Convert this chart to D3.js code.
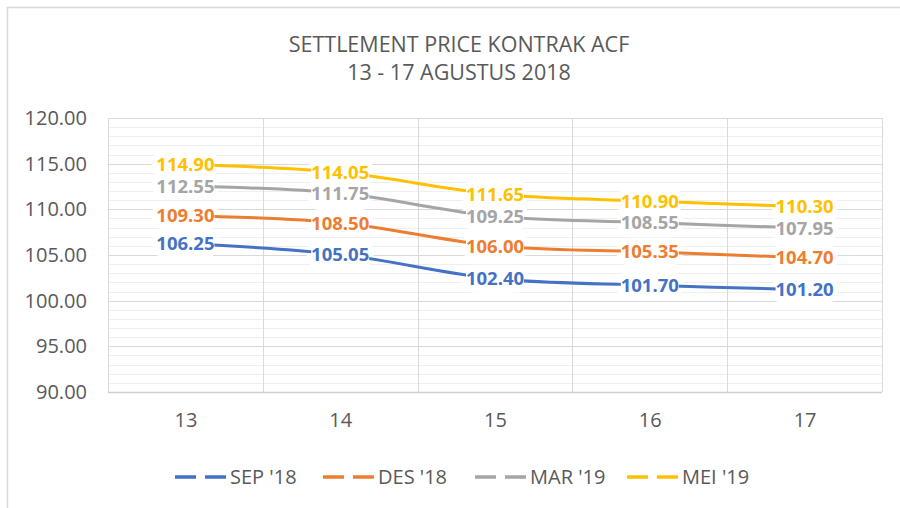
<!DOCTYPE html>
<html>
<head>
<meta charset="utf-8">
<script src="https://cdn.jsdelivr.net/npm/d3@7"></script>
<style>
  html, body { margin: 0; padding: 0; background: #fff; }
  svg { display: block; font-family: "Open Sans", "Noto Sans", sans-serif; }
</style>
</head>
<body>
<div id="chart"></div>
<script>
const days = ["13", "14", "15", "16", "17"];
const seriesNames = ["SEP '18", "DES '18", "MAR '19", "MEI '19"];
const seriesColors = ["#4472C4", "#ED7D31", "#A5A5A5", "#FFC000"];
const sep18 = [106.25, 105.05, 102.40, 101.70, 101.20];
const des18 = [109.30, 108.50, 106.00, 105.35, 104.70];
const mar19 = [112.55, 111.75, 109.25, 108.55, 107.95];
const mei19 = [114.90, 114.05, 111.65, 110.90, 110.30];
const yTicks = [90, 95, 100, 105, 110, 115, 120];
const titleLines = ["SETTLEMENT PRICE KONTRAK ACF", "13 - 17 AGUSTUS 2018"];

const seriesValues = [sep18, des18, mar19, mei19];
const series = seriesNames.map(function(name, i) {
  return {
    name: name,
    color: seriesColors[i],
    points: seriesValues[i].map(function(v, j) { return {day: days[j], value: v}; })
  };
});

const W = 900, H = 508;
const plot = {left: 108, right: 882, top: 118, bottom: 392};
const textColor = "#595959";

const svg = d3.select("#chart").append("svg")
  .attr("width", W)
  .attr("height", H);

// Chart area border (runs off the right and bottom edges)
svg.append("rect")
  .attr("x", 7.5)
  .attr("y", 7.5)
  .attr("width", 1000)
  .attr("height", 1000)
  .attr("fill", "#fff")
  .attr("stroke", "#d9d9d9")
  .attr("stroke-width", 1.5);

// Title
svg.append("g")
  .selectAll("text")
  .data(titleLines)
  .enter()
  .append("text")
  .attr("x", 459)
  .attr("y", function(d, i) { return 52 + i * 28; })
  .attr("text-anchor", "middle")
  .attr("font-size", 21.5)
  .attr("fill", textColor)
  .text(function(d) { return d; });

// Scales
const yScale = d3.scaleLinear()
  .domain([90, 120])
  .range([plot.bottom, plot.top]);

const xBand = d3.scaleBand()
  .domain(days)
  .range([plot.left, plot.right]);

const xScale = d3.scalePoint()
  .domain(days)
  .range([plot.left, plot.right])
  .padding(0.5);

// Minor horizontal gridlines
const minorTicks = d3.range(90, 121).filter(function(v) { return v % 5 !== 0; });
svg.append("g")
  .selectAll("line")
  .data(minorTicks)
  .enter()
  .append("line")
  .attr("x1", plot.left)
  .attr("x2", plot.right)
  .attr("y1", function(d) { return Math.round(yScale(d)) + 0.5; })
  .attr("y2", function(d) { return Math.round(yScale(d)) + 0.5; })
  .attr("stroke", "#efefef")
  .attr("stroke-width", 1);

// Major horizontal gridlines
svg.append("g")
  .selectAll("line")
  .data(yTicks)
  .enter()
  .append("line")
  .attr("x1", plot.left)
  .attr("x2", plot.right)
  .attr("y1", function(d) { return Math.round(yScale(d)) + 0.5; })
  .attr("y2", function(d) { return Math.round(yScale(d)) + 0.5; })
  .attr("stroke", "#d9d9d9")
  .attr("stroke-width", 1);

// Vertical gridlines at category boundaries
const boundaries = days.map(function(d) { return xBand(d); }).concat([plot.right]);
svg.append("g")
  .selectAll("line")
  .data(boundaries)
  .enter()
  .append("line")
  .attr("x1", function(d) { return Math.round(d) + 0.5; })
  .attr("x2", function(d) { return Math.round(d) + 0.5; })
  .attr("y1", plot.top)
  .attr("y2", plot.bottom)
  .attr("stroke", "#d9d9d9")
  .attr("stroke-width", 1);

// Bottom axis line
svg.append("line")
  .attr("x1", plot.left)
  .attr("x2", plot.right)
  .attr("y1", plot.bottom + 0.5)
  .attr("y2", plot.bottom + 0.5)
  .attr("stroke", "#d0d0d0")
  .attr("stroke-width", 1.5);

// Y axis labels
const yAxis = d3.axisLeft(yScale)
  .tickValues(yTicks)
  .tickSize(0)
  .tickPadding(21)
  .tickFormat(d3.format(".2f"));
const yAxisGroup = svg.append("g")
  .attr("transform", "translate(" + plot.left + ",0)")
  .call(yAxis);
yAxisGroup.select(".domain").remove();
yAxisGroup.selectAll("text")
  .attr("font-family", "\"Open Sans\", sans-serif")
  .attr("font-size", 20)
  .attr("fill", textColor);

// X axis labels
const xAxis = d3.axisBottom(xScale)
  .tickSize(0)
  .tickPadding(21);
const xAxisGroup = svg.append("g")
  .attr("transform", "translate(0," + plot.bottom + ")")
  .call(xAxis);
xAxisGroup.select(".domain").remove();
xAxisGroup.selectAll("text")
  .attr("font-family", "\"Open Sans\", sans-serif")
  .attr("font-size", 20)
  .attr("fill", textColor);

// Data label positions
const allPoints = [];
series.forEach(function(s) {
  s.points.forEach(function(p) {
    allPoints.push({color: s.color, day: p.day, value: p.value});
  });
});

// Soft white area that hides gridlines round each label
svg.append("g")
  .selectAll("rect")
  .data(allPoints)
  .enter()
  .append("rect")
  .attr("x", function(d) { return xScale(d.day) - 33; })
  .attr("y", function(d) { return yScale(d.value) - 14; })
  .attr("width", 66)
  .attr("height", 28)
  .attr("rx", 12)
  .attr("fill", "#fff");

// Lines
const line = d3.line()
  .x(function(d) { return xScale(d.day); })
  .y(function(d) { return yScale(d.value); })
  .curve(d3.curveCatmullRom.alpha(0));

svg.append("g")
  .selectAll("path")
  .data(series)
  .enter()
  .append("path")
  .attr("d", function(d) { return line(d.points); })
  .attr("fill", "none")
  .attr("stroke", function(d) { return d.color; })
  .attr("stroke-width", 3)
  .attr("stroke-linecap", "round")
  .attr("stroke-linejoin", "round");

// Tight label box that covers the line under the text
svg.append("g")
  .selectAll("rect")
  .data(allPoints)
  .enter()
  .append("rect")
  .attr("x", function(d) { return xScale(d.day) - 29; })
  .attr("y", function(d) { return yScale(d.value) - 9; })
  .attr("width", 58)
  .attr("height", 18)
  .attr("fill", "#fff");

// Data labels
svg.append("g")
  .selectAll("text")
  .data(allPoints)
  .enter()
  .append("text")
  .attr("x", function(d) { return xScale(d.day); })
  .attr("y", function(d) { return yScale(d.value); })
  .attr("dy", "0.36em")
  .attr("text-anchor", "middle")
  .attr("font-size", 18.5)
  .attr("font-weight", "bold")
  .attr("fill", function(d) { return d.color; })
  .text(function(d) { return d3.format(".2f")(d.value); });

// Legend
const legendX = [175, 323, 475, 627];
const legend = svg.append("g")
  .selectAll("g")
  .data(series)
  .enter()
  .append("g")
  .attr("transform", function(d, i) { return "translate(" + legendX[i] + ",477)"; });

legend.append("line")
  .attr("x1", 0)
  .attr("x2", 51)
  .attr("y1", 0)
  .attr("y2", 0)
  .attr("stroke", function(d) { return d.color; })
  .attr("stroke-width", 3.5)
  .attr("stroke-dasharray", "21,9");

legend.append("text")
  .attr("x", 55)
  .attr("y", 0)
  .attr("dy", "0.36em")
  .attr("font-size", 20)
  .attr("fill", textColor)
  .text(function(d) { return d.name; });
</script>
</body>
</html>
